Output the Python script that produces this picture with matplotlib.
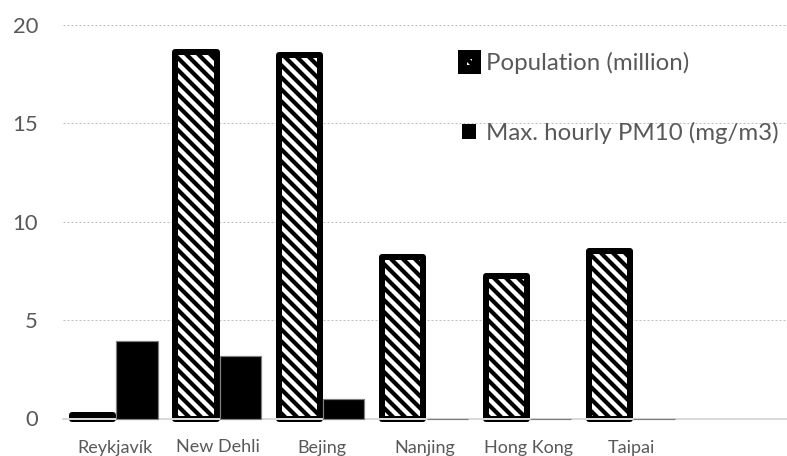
import matplotlib
matplotlib.use("Agg")
import matplotlib.pyplot as plt
from matplotlib.patches import Patch
import numpy as np

# City data
cities = ["Reykjavík", "New Dehli", "Bejing", "Nanjing", "Hong Kong", "Taipai"]
population = [0.2, 18.65, 18.5, 8.2, 7.25, 8.5]      # million
pm10_max = [3.94, 3.2, 0.98, 0.0, 0.0, 0.0]          # mg/m3
y_ticks = [0, 5, 10, 15, 20]

DPI = 72
plt.rcParams["font.family"] = ["Lato", "DejaVu Sans"]
plt.rcParams["hatch.linewidth"] = 4.2
plt.rcParams["hatch.color"] = "black"

text_grey = "#595959"

fig = plt.figure(figsize=(787 / DPI, 456 / DPI), dpi=DPI)
ax = fig.add_axes([63 / 787, (456 - 418.5) / 456, 724 / 787, (418.5 - 25) / 456])

x = np.arange(len(cities))
w = 0.4
off = 0.215

pop_bars = ax.bar(x - off, population, width=w, facecolor="white",
                  edgecolor="black", linewidth=6, hatch="\\\\",
                  joinstyle="round", clip_on=False, zorder=2)
pm_bars = ax.bar(x + off, pm10_max, width=w, facecolor="black",
                 edgecolor="#7f7f7f", linewidth=1.2, clip_on=False, zorder=4)

ax.set_xlim(-0.5, 6.5)
ax.set_ylim(0, 20)
ax.set_yticks(y_ticks)
ax.set_xticks(x)
ax.set_xticklabels(cities)

ax.grid(axis="y", color="#bfbfbf", linestyle=(0, (2, 2)), linewidth=1, zorder=0)
ax.set_axisbelow(True)
for s in ("left", "right", "top"):
    ax.spines[s].set_visible(False)
ax.spines["bottom"].set_color("#d9d9d9")
ax.spines["bottom"].set_linewidth(2)
ax.spines["bottom"].set_zorder(3)

ax.tick_params(axis="y", length=0, pad=25, labelsize=22, labelcolor=text_grey)
ax.tick_params(axis="x", length=0, pad=21, labelsize=18, labelcolor=text_grey)

# Legend keys: a heavily outlined hatched square and a solid square
pop_key = Patch(facecolor="white", edgecolor="black", linewidth=9,
                hatch="\\\\", joinstyle="round", label="Population (million)")
pm_key = Patch(facecolor="black", edgecolor="black", linewidth=0,
               label="Max. hourly PM10 (mg/m3)")

leg = ax.legend(handles=[pop_key, pm_key], loc="upper left",
                bbox_to_anchor=((462 - 63) / 724, 1.0 - (52 - 25) / 393.5),
                frameon=False, fontsize=24, labelcolor=text_grey,
                handlelength=0.6, handleheight=0.6, handletextpad=0.4,
                labelspacing=2.0, borderaxespad=0, borderpad=0)

fig.savefig("out.png", dpi=DPI)
